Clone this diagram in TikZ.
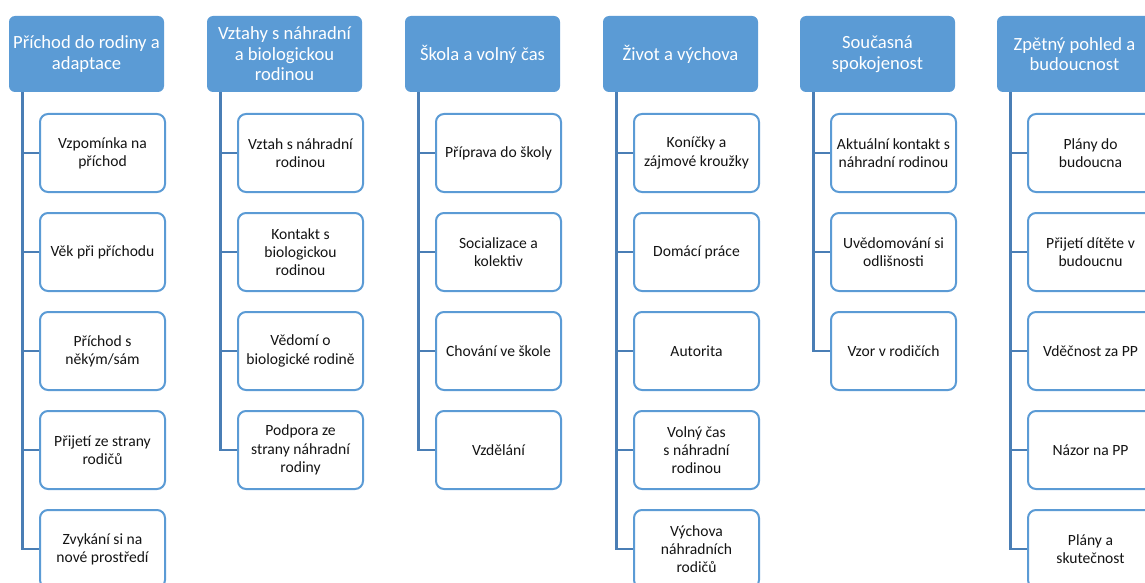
\documentclass[tikz,border=0pt]{standalone}
\usepackage{fontspec}
\setmainfont{Carlito}
\definecolor{hdrblue}{HTML}{5B9BD5}
\definecolor{linblue}{HTML}{4A7EB5}
\definecolor{txtgray}{HTML}{141414}
\begin{document}
\begin{tikzpicture}[x=1pt,y=-1pt,
  hdr/.style={draw=none,fill=hdrblue,rounded corners=6pt,minimum width=155pt,minimum height=76pt,
    text=white,align=center,font=\fontsize{18.6}{20.5}\selectfont,inner sep=0pt},
  child/.style={draw=hdrblue,line width=2pt,fill=white,rounded corners=8pt,minimum width=125pt,minimum height=78pt,
    text=txtgray,align=center,font=\fontsize{15.6}{18.3}\selectfont,inner sep=0pt},
  conn/.style={draw=linblue,line width=2.8pt}]
\useasboundingbox (0,0) rectangle (1145,583);
\clip (0,0) rectangle (1145,583);
% headers
\node[hdr] (h1) at (86.5,54) {Příchod do rodiny a\\adaptace};
\node[hdr] (h2) at (284.5,54) {Vztahy s náhradní\\a biologickou\\rodinou};
\node[hdr] (h3) at (482.5,54) {Škola a volný čas};
\node[hdr] (h4) at (680.5,54) {Život a výchova};
\node[hdr] (h5) at (877.5,54) {Současná\\spokojenost};
\node[hdr] (h6) at (1074.5,54) {Zpětný pohled a\\budoucnost};
% column 1
\node[child] (c11) at (102.5,153) {Vzpomínka na\\příchod};
\node[child] (c12) at (102.5,252) {Věk při příchodu};
\node[child] (c13) at (102.5,351) {Příchod s\\někým/sám};
\node[child] (c14) at (102.5,450) {Přijetí ze strany\\rodičů};
\node[child] (c15) at (102.5,549) {Zvykání si na\\nové prostředí};
% column 2
\node[child] (c21) at (300.5,153) {Vztah s náhradní\\rodinou};
\node[child] (c22) at (300.5,252) {Kontakt s\\biologickou\\rodinou};
\node[child] (c23) at (300.5,351) {Vědomí o\\biologické rodině};
\node[child] (c24) at (300.5,450) {Podpora ze\\strany náhradní\\rodiny};
% column 3
\node[child] (c31) at (498.5,153) {Příprava do školy};
\node[child] (c32) at (498.5,252) {Socializace a\\kolektiv};
\node[child] (c33) at (498.5,351) {Chování ve škole};
\node[child] (c34) at (498.5,450) {Vzdělání};
% column 4
\node[child] (c41) at (696.5,153) {Koníčky a\\zájmové kroužky};
\node[child] (c42) at (696.5,252) {Domácí práce};
\node[child] (c43) at (696.5,351) {Autorita};
\node[child] (c44) at (696.5,450) {Volný čas\\s náhradní\\rodinou};
\node[child] (c45) at (696.5,549) {Výchova\\náhradních\\rodičů};
% column 5
\node[child] (c51) at (893.5,153) {Aktuální kontakt s\\náhradní rodinou};
\node[child] (c52) at (893.5,252) {Uvědomování si\\odlišnosti};
\node[child] (c53) at (893.5,351) {Vzor v rodičích};
% column 6
\node[child] (c61) at (1090.5,153) {Plány do\\budoucna};
\node[child] (c62) at (1090.5,252) {Přijetí dítěte v\\budoucnu};
\node[child] (c63) at (1090.5,351) {Vděčnost za PP};
\node[child] (c64) at (1090.5,450) {Názor na PP};
\node[child] (c65) at (1090.5,549) {Plány a\\skutečnost};
% connectors
\foreach \h/\list in {h1/{c11,c12,c13,c14,c15},h2/{c21,c22,c23,c24},h3/{c31,c32,c33,c34},
                      h4/{c41,c42,c43,c44,c45},h5/{c51,c52,c53},h6/{c61,c62,c63,c64,c65}}{
  \foreach \c in \list {
    \draw[conn] ([xshift=14pt]\h.south west) |- (\c.west);
  }
}
\end{tikzpicture}
\end{document}
